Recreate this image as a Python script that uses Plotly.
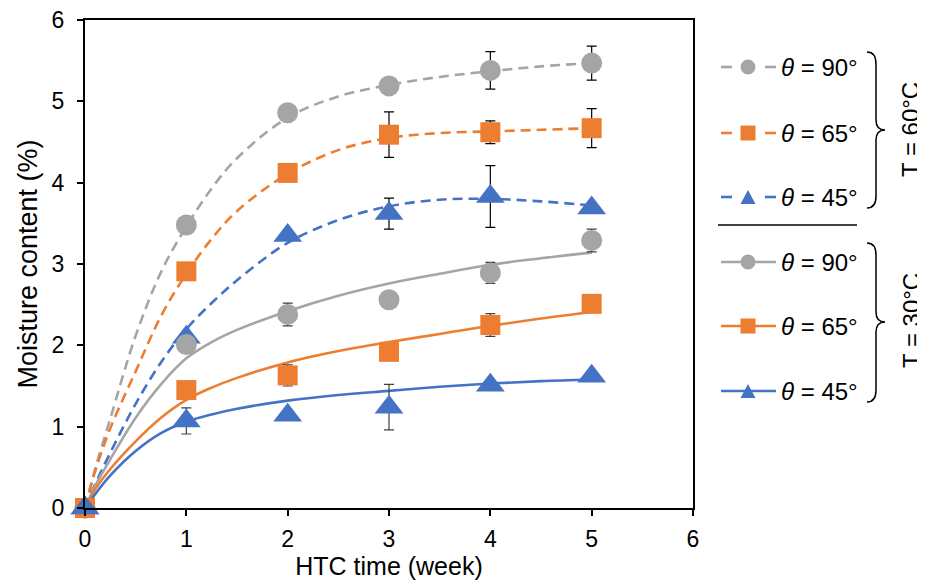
import plotly.graph_objects as go

# ---------------- data ----------------
weeks = [0, 1, 2, 3, 4, 5]

m60_90 = [0, 3.48, 4.86, 5.19, 5.38, 5.47]
m60_65 = [0, 2.91, 4.12, 4.59, 4.62, 4.67]
m60_45 = [0, 2.10, 3.35, 3.62, 3.83, 3.69]
m30_90 = [0, 2.01, 2.38, 2.56, 2.89, 3.29]
m30_65 = [0, 1.45, 1.63, 1.92, 2.25, 2.51]
m30_45 = [0, 1.07, 1.14, 1.24, 1.51, 1.62]

e60_90 = [0, 0, 0, 0, 0.23, 0.21]
e60_65 = [0, 0, 0, 0.28, 0.14, 0.24]
e60_45 = [0, 0, 0, 0.19, 0.38, 0.05]
e30_90 = [0, 0.08, 0.14, 0, 0.13, 0.14]
e30_65 = [0, 0, 0.13, 0, 0.14, 0]
e30_45 = [0, 0.16, 0, 0.28, 0.05, 0]

# fitted curves
fit_t = [0, 0.1, 0.25, 0.5, 0.75, 1, 1.25, 1.5, 2, 2.5, 3, 3.5, 4, 4.5, 5]
fit60_90 = [0, 0.48, 1.10, 2.12, 2.90, 3.46, 3.93, 4.30, 4.80, 5.06, 5.20, 5.30, 5.37, 5.43, 5.47]
fit60_65 = [0, 0.45, 0.98, 1.68, 2.36, 2.88, 3.31, 3.65, 4.11, 4.40, 4.55, 4.61, 4.63, 4.65, 4.67]
fit60_45 = [0, 0.29, 0.68, 1.28, 1.79, 2.20, 2.52, 2.80, 3.26, 3.54, 3.71, 3.79, 3.80, 3.77, 3.72]
fit30_90 = [0, 0.27, 0.60, 1.11, 1.52, 1.84, 2.04, 2.19, 2.42, 2.61, 2.76, 2.88, 2.99, 3.07, 3.14]
fit30_65 = [0, 0.23, 0.48, 0.82, 1.11, 1.33, 1.48, 1.60, 1.79, 1.93, 2.04, 2.14, 2.24, 2.33, 2.41]
fit30_45 = [0, 0.17, 0.40, 0.70, 0.92, 1.06, 1.15, 1.22, 1.32, 1.39, 1.44, 1.49, 1.53, 1.56, 1.58]

x_ticks = [0, 1, 2, 3, 4, 5, 6]
y_ticks = [0, 1, 2, 3, 4, 5, 6]
x_title = "HTC time (week)"
y_title = "Moisture content (%)"
legend_labels = ["<i>θ</i> = 90°", "<i>θ</i> = 65°", "<i>θ</i> = 45°"]
group_labels = ["T = 60°C", "T = 30°C"]

# ---------------- style ----------------
GRAY = "#A5A5A5"
ORANGE = "#ED7D31"
BLUE = "#4472C4"
FONT = "Liberation Sans, Arial, sans-serif"

series = [
    (m60_90, e60_90, fit60_90, GRAY, "circle", 21, "10px,6px", "black"),
    (m60_65, e60_65, fit60_65, ORANGE, "square", 20, "10px,6px", "black"),
    (m60_45, e60_45, fit60_45, BLUE, "triangle-up", 25, "10px,6px", "black"),
    (m30_90, e30_90, fit30_90, GRAY, "circle", 21, "solid", "#404040"),
    (m30_65, e30_65, fit30_65, ORANGE, "square", 20, "solid", "#404040"),
    (m30_45, e30_45, fit30_45, BLUE, "triangle-up", 25, "solid", "#404040"),
]

fig = go.Figure()

for m, e, f, col, sym, sz, dash, ecol in series:
    fig.add_trace(go.Scatter(
        x=fit_t, y=f, mode="lines",
        line=dict(color=col, width=2.6, dash=dash, shape="spline", smoothing=1.0),
        showlegend=False, hoverinfo="skip", cliponaxis=False))

for m, e, f, col, sym, sz, dash, ecol in series:
    fig.add_trace(go.Scatter(
        x=weeks, y=m, mode="markers",
        marker=dict(color=col, symbol=sym, size=sz, line=dict(width=0)),
        error_y=dict(type="data", array=e, visible=True, color=ecol,
                     thickness=1.2, width=5),
        showlegend=False, cliponaxis=False))

# ---------------- page geometry ----------------
# the page body has an 8px margin, so the figure is drawn 8px smaller
OFF = 8
W, H = 925 - OFF, 582 - OFF
# plot box in screen pixels (as in the reference)
L, R, T, B = 85, 693, 20, 508


def px(x):
    return (x - L) / (R - L)


def py(y):
    return (B - y) / (B - T)


shapes = []
annotations = []

rows = [
    (67, GRAY, "circle", True, 0),
    (133, ORANGE, "square", True, 1),
    (197, BLUE, "triangle", True, 2),
    (262, GRAY, "circle", False, 0),
    (326, ORANGE, "square", False, 1),
    (391, BLUE, "triangle", False, 2),
]
mx = 748
for yc, col, sym, dashed, li in rows:
    if dashed:
        for a, b in [(721, 732), (765, 776)]:
            shapes.append(dict(type="line", xref="paper", yref="paper",
                               x0=px(a), x1=px(b), y0=py(yc), y1=py(yc),
                               line=dict(color=col, width=2.6)))
    else:
        shapes.append(dict(type="line", xref="paper", yref="paper",
                           x0=px(721), x1=px(776), y0=py(yc), y1=py(yc),
                           line=dict(color=col, width=2.6)))
    if sym == "circle":
        r = 7.5
        shapes.append(dict(type="circle", xref="paper", yref="paper",
                           x0=px(mx - r), x1=px(mx + r), y0=py(yc + r), y1=py(yc - r),
                           fillcolor=col, line=dict(width=0)))
    elif sym == "square":
        r = 7.5
        shapes.append(dict(type="rect", xref="paper", yref="paper",
                           x0=px(mx - r), x1=px(mx + r), y0=py(yc + r), y1=py(yc - r),
                           fillcolor=col, line=dict(width=0)))
    else:
        h, w = 14, 15
        path = "M {:.5f},{:.5f} L {:.5f},{:.5f} L {:.5f},{:.5f} Z".format(
            px(mx - w / 2), py(yc + h / 2), px(mx + w / 2), py(yc + h / 2),
            px(mx), py(yc - h / 2))
        shapes.append(dict(type="path", xref="paper", yref="paper", path=path,
                           fillcolor=col, line=dict(width=0)))
    annotations.append(dict(xref="paper", yref="paper", x=px(779), y=py(yc),
                            xanchor="left", yanchor="middle", showarrow=False,
                            text=legend_labels[li],
                            font=dict(family=FONT, size=24, color="black")))

# separator line
shapes.append(dict(type="line", xref="paper", yref="paper",
                   x0=px(718), x1=px(857), y0=py(225), y1=py(225),
                   line=dict(color="black", width=1.5)))


def brace(yt, ym, yb, xl=867, xs=876, xt=885):
    pts = [
        ("M", [(xl, yt)]),
        ("Q", [(xs, yt), (xs, yt + 12)]),
        ("L", [(xs, ym - 10)]),
        ("Q", [(xs, ym), (xt, ym)]),
        ("Q", [(xs, ym), (xs, ym + 10)]),
        ("L", [(xs, yb - 12)]),
        ("Q", [(xs, yb), (xl, yb)]),
    ]
    s = ""
    for cmd, pl in pts:
        s += cmd + " " + " ".join("{:.5f},{:.5f}".format(px(a), py(b)) for a, b in pl) + " "
    return s.strip()


for (yt, ym, yb), lab, yc in [((52, 130, 208), group_labels[0], 130),
                              ((243, 322, 402), group_labels[1], 321)]:
    shapes.append(dict(type="path", xref="paper", yref="paper", path=brace(yt, ym, yb),
                       line=dict(color="black", width=1.5)))
    annotations.append(dict(xref="paper", yref="paper", x=px(911), y=py(yc),
                            xanchor="center", yanchor="middle", showarrow=False,
                            text=lab, textangle=-90,
                            font=dict(family=FONT, size=24, color="black")))

axis_common = dict(
    showgrid=False, zeroline=False, showline=True, linecolor="black", linewidth=2,
    mirror=True, ticks="outside", ticklen=6, tickwidth=1.5, tickcolor="black",
    tickfont=dict(family=FONT, size=23, color="black"), automargin=False,
    ticklabeloverflow="allow",
)

fig.update_layout(
    width=W, height=H,
    margin=dict(l=L - OFF, r=(925 - R), t=T - OFF, b=(582 - B),
                autoexpand=False),
    paper_bgcolor="white", plot_bgcolor="white",
    showlegend=False,
    font=dict(family=FONT, color="black"),
    xaxis=dict(range=[0, 6], tickvals=x_ticks, ticklabelstandoff=3,
               title=dict(text=x_title, font=dict(family=FONT, size=25), standoff=1),
               **axis_common),
    yaxis=dict(range=[0, 6], tickvals=y_ticks, ticklabelstandoff=8,
               title=dict(text=y_title, font=dict(family=FONT, size=27), standoff=6),
               **axis_common),
    shapes=shapes,
    annotations=annotations,
)

fig.write_html("out.html")
